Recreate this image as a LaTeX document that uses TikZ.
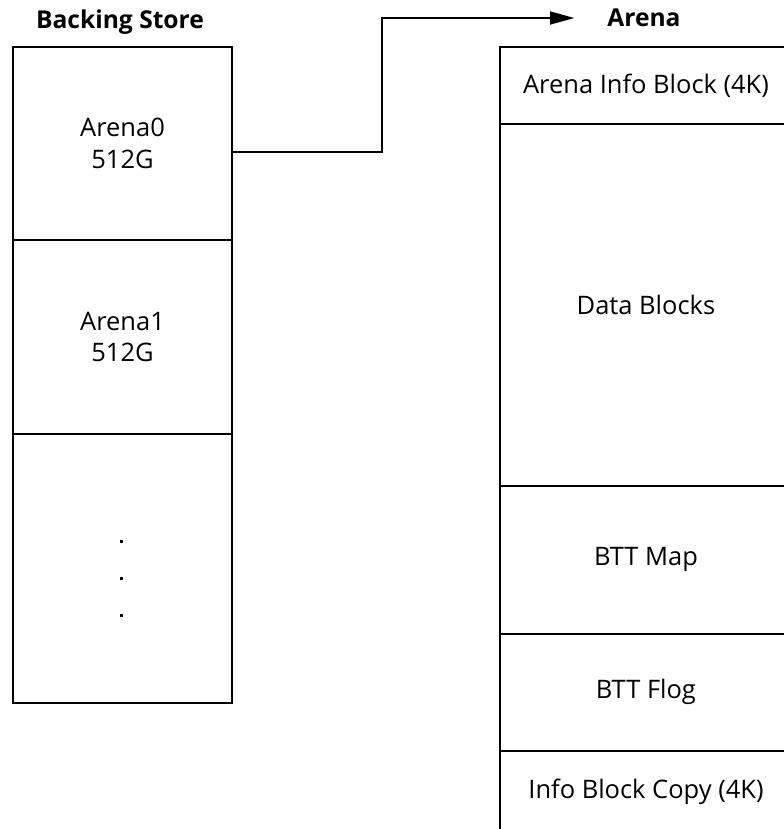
\documentclass[tikz,border=0pt]{standalone}
\usepackage{fontspec}
\setmainfont{Open Sans}
\usetikzlibrary{arrows.meta,positioning}

\begin{document}
\begin{tikzpicture}[x=0.02cm,y=-0.02cm,font=\fontsize{14.5}{18}\selectfont,node distance=0pt,
      cell/.style={draw,line width=0.8pt,minimum width=4.38cm,inner sep=0pt,outer sep=0pt,align=center},
      part/.style={draw,line width=0.8pt,minimum width=5.84cm,inner sep=0pt,outer sep=0pt,align=center},
      title/.style={font=\fontsize{14}{16}\selectfont\bfseries}]
    \useasboundingbox (0,0) rectangle (784,829);
    \clip (0,0) rectangle (784,829);
    % backing store
    \node[title] (store) at (120,22) {Backing Store};
    \node[cell,minimum height=3.86cm,anchor=north west] (a0) at (13,47) {Arena0\\512G};
    \node[cell,minimum height=3.88cm,below=of a0] (a1) {Arena1\\512G};
    \node[cell,minimum height=5.38cm,below=of a1] (more) {};
    \foreach \y in {541,578,615}
      \fill (119.5,\y-1.5) rectangle ++(3,3);
    % arena layout
    \node[title] (arena) at (644,18) {Arena};
    \node[part,minimum height=1.54cm,anchor=north west] (info) at (500,47) {Arena Info Block (4K)};
    \node[part,minimum height=7.24cm,below=of info] (data) {Data Blocks};
    \node[part,minimum height=2.96cm,below=of data] (map) {BTT Map};
    \node[part,minimum height=2.34cm,below=of map] (flog) {BTT Flog};
    \node[part,minimum height=1.64cm,below=of flog] (copy) {Info Block Copy (4K)};
    \draw[line width=0.8pt,-{Triangle[length=4.8mm,width=2.6mm]},shorten >=0.54cm]
      ([yshift=-0.17cm]a0.east) -- ++(150,0) |- (arena.west);
  \end{tikzpicture}
\end{document}
